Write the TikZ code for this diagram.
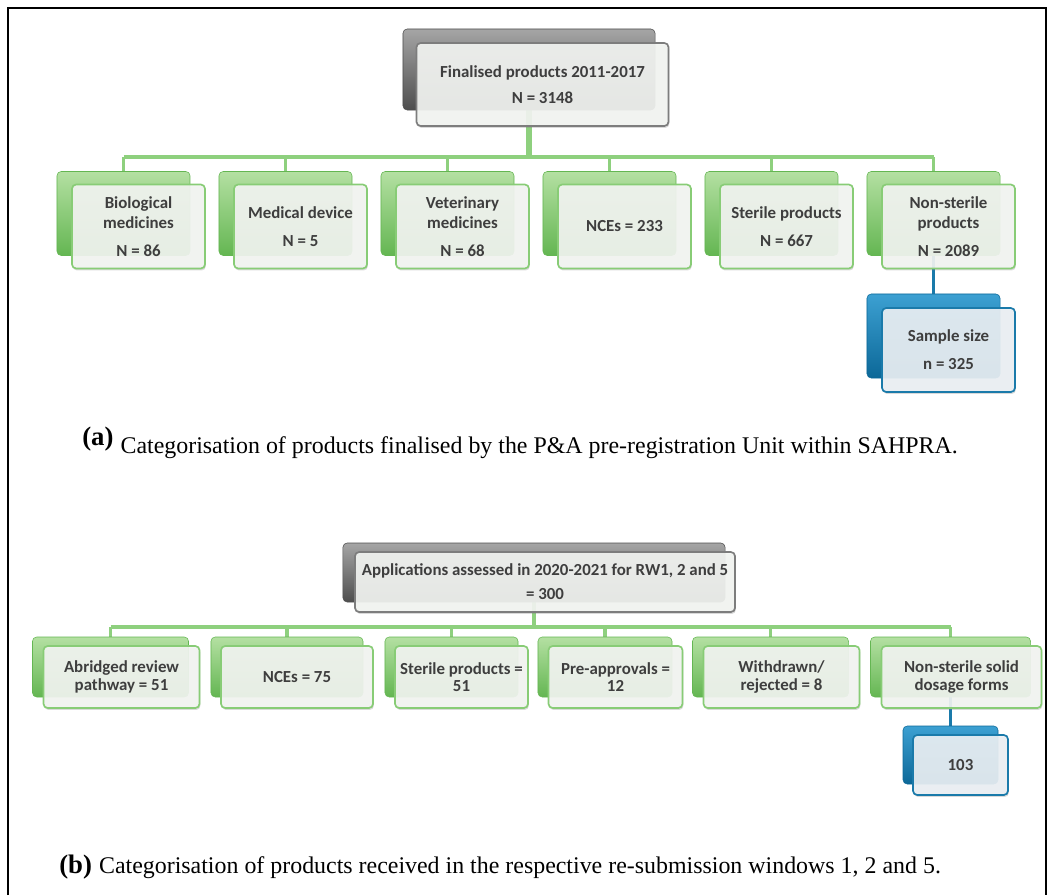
\documentclass[tikz,border=0pt]{standalone}
\usepackage{fontspec}
\setmainfont{Liberation Serif}
\newfontfamily\boxfont{Carlito}
\usetikzlibrary{backgrounds,shadows}
\definecolor{greentop}{RGB}{180,224,162}
\definecolor{greenbottom}{RGB}{100,182,82}
\definecolor{greenedge}{RGB}{136,204,118}
\definecolor{greenline}{RGB}{142,208,126}
\definecolor{graytop}{RGB}{165,165,165}
\definecolor{graybottom}{RGB}{78,78,78}
\definecolor{grayedge}{RGB}{125,125,125}
\definecolor{bluetop}{RGB}{60,160,210}
\definecolor{bluebottom}{RGB}{12,104,152}
\definecolor{blueedge}{RGB}{26,122,170}
\definecolor{bluefill}{RGB}{236,241,245}
\definecolor{frontfill}{RGB}{244,246,243}
\definecolor{boxtextcol}{RGB}{62,62,62}

\begin{document}
\begin{tikzpicture}[x=0.025cm, y=-0.025cm,
    boxtext/.style={font=\boxfont\bfseries\fontsize{12}{14}\selectfont, text=boxtextcol, align=center},
    backbox/.style={rounded corners=3pt, inner sep=0pt, line width=0.4pt},
    greenback/.style={backbox, top color=greentop, bottom color=greenbottom, draw=greenbottom},
    grayback/.style={backbox, top color=graytop, bottom color=graybottom, draw=graybottom},
    blueback/.style={backbox, top color=bluetop, bottom color=bluebottom, draw=bluebottom},
    frontbox/.style={boxtext, rounded corners=3pt, inner sep=0pt, line width=1.2pt,
        fill opacity=0.9, text opacity=1,
        drop shadow={shadow xshift=0.6pt, shadow yshift=-1.4pt, opacity=0.3}},
    greenfront/.style={frontbox, fill=frontfill, draw=greenedge},
    grayfront/.style={frontbox, fill=frontfill, draw=grayedge},
    bluefront/.style={frontbox, fill=bluefill, draw=blueedge},
    tighttext/.style={font=\boxfont\bfseries\fontsize{12}{12.5}\selectfont},
    awide/.style={minimum width=3.325cm, minimum height=2.1cm},
    trunkline/.style={greenline, line width=4.6pt},
    barline/.style={greenline, line width=2.3pt},
    blueline/.style={blueedge, line width=2.3pt},
    caption/.style={anchor=base west, inner sep=0pt, font=\fontsize{17}{20}\selectfont}]
\useasboundingbox (0,0) rectangle (1050,895);
\draw[line width=1.1pt] (8,895) -- (8,8) -- (1046,8) -- (1046,895);

% (a) products finalised 2011-2017
\node[grayback, minimum width=6.3cm, minimum height=2.025cm] (rootA) at (529,69.5) {};
\node[grayfront, minimum width=6.3cm, minimum height=2.075cm] (rootAf) at (542.5,84.5)
    {Finalised products 2011-2017\\[4pt]N = 3148};

\node[greenback, awide] (a1) at (123.5,213.5) {};
\node[greenfront, awide] (a1f) at (138.5,226.5) {Biological\\medicines\\[6pt]N = 86};
\node[greenback, awide] (a2) at (285.5,213.5) {};
\node[greenfront, awide] (a2f) at (300.5,226.5) {Medical device\\[6pt]N = 5};
\node[greenback, awide] (a3) at (447.5,213.5) {};
\node[greenfront, awide] (a3f) at (462.5,226.5) {Veterinary\\medicines\\[6pt]N = 68};
\node[greenback, awide] (a4) at (609.5,213.5) {};
\node[greenfront, awide] (a4f) at (624.5,226.5) {NCEs = 233};
\node[greenback, awide] (a5) at (771.5,213.5) {};
\node[greenfront, awide] (a5f) at (786.5,226.5) {Sterile products\\[6pt]N = 667};
\node[greenback, awide] (a6) at (933.5,213.5) {};
\node[greenfront, awide] (a6f) at (948.5,226.5) {Non-sterile\\products\\[6pt]N = 2089};

\node[blueback, awide] (sA) at (933.5,336) {};
\node[bluefront, awide] (sAf) at (948.5,350) {Sample size\\[6pt]n = 325};

\node[caption] (capA) at (82,453)
    {\raisebox{5pt}{\fontsize{19}{20}\selectfont\bfseries (a)}\hspace{0.3em}Categorisation of products finalised by the P\&A pre-registration Unit within SAHPRA.};

% (b) applications assessed 2020-2021
\node[grayback, minimum width=9.55cm, minimum height=1.475cm] (rootB) at (534,572.5) {};
\node[grayfront, minimum width=9.5cm, minimum height=1.5cm] (rootBf) at (545,582)
    {Applications assessed in 2020-2021 for RW1, 2 and 5\\[3pt]= 300};

\node[greenback, minimum width=3.9cm, minimum height=1.5cm] (b1) at (110.5,667) {};
\node[greenfront, tighttext, minimum width=3.9cm, minimum height=1.55cm] (b1f) at (121.5,677) {Abridged review\\pathway = 51};
\node[greenback, minimum width=3.8cm, minimum height=1.5cm] (b2) at (287,667) {};
\node[greenfront, minimum width=3.8cm, minimum height=1.55cm] (b2f) at (297,677) {NCEs = 75};
\node[greenback, minimum width=3.325cm, minimum height=1.5cm] (b3) at (451.5,667) {};
\node[greenfront, tighttext, minimum width=3.325cm, minimum height=1.55cm] (b3f) at (461.5,677) {Sterile products =\\51};
\node[greenback, minimum width=3.35cm, minimum height=1.5cm] (b4) at (605,667) {};
\node[greenfront, tighttext, minimum width=3.35cm, minimum height=1.55cm] (b4f) at (615.5,677) {Pre-approvals =\\12};
\node[greenback, minimum width=3.9cm, minimum height=1.5cm] (b5) at (770.5,667) {};
\node[greenfront, tighttext, minimum width=3.9cm, minimum height=1.55cm] (b5f) at (781.5,677) {Withdrawn/\\rejected = 8};
\node[greenback, minimum width=4cm, minimum height=1.5cm] (b6) at (950.5,667) {};
\node[greenfront, tighttext, minimum width=4cm, minimum height=1.55cm] (b6f) at (961.5,677) {Non-sterile solid\\dosage forms};

\node[blueback, minimum width=2.375cm, minimum height=1.45cm] (sB) at (950.5,755) {};
\node[bluefront, minimum width=2.375cm, minimum height=1.5cm] (sBf) at (960.5,765) {103};

\node[caption] (capB) at (59,873)
    {{\fontsize{19}{20}\selectfont\bfseries (b)}\hspace{0.3em}Categorisation of products received in the respective re-submission windows 1, 2 and 5.};

\begin{scope}[on background layer]
    \coordinate (barA) at (0,157);
    \coordinate (barB) at (0,627);
    \draw[trunkline] (rootA.south) -- (rootA.south |- barA);
    \draw[barline] (a1.north |- barA) -- (a6.north |- barA);
    \foreach \i in {1,...,6}
        \draw[barline] (a\i.north |- barA) -- (a\i.north);
    \draw[blueline] (a6.south) -- (sA.north);
    \draw[barline] (rootB.south) -- (rootB.south |- barB);
    \draw[barline] (b1.north |- barB) -- (b6.north |- barB);
    \foreach \i in {1,...,6}
        \draw[barline] (b\i.north |- barB) -- (b\i.north);
    \draw[blueline] (b6.south) -- (sB.north);
\end{scope}
\end{tikzpicture}
\end{document}
